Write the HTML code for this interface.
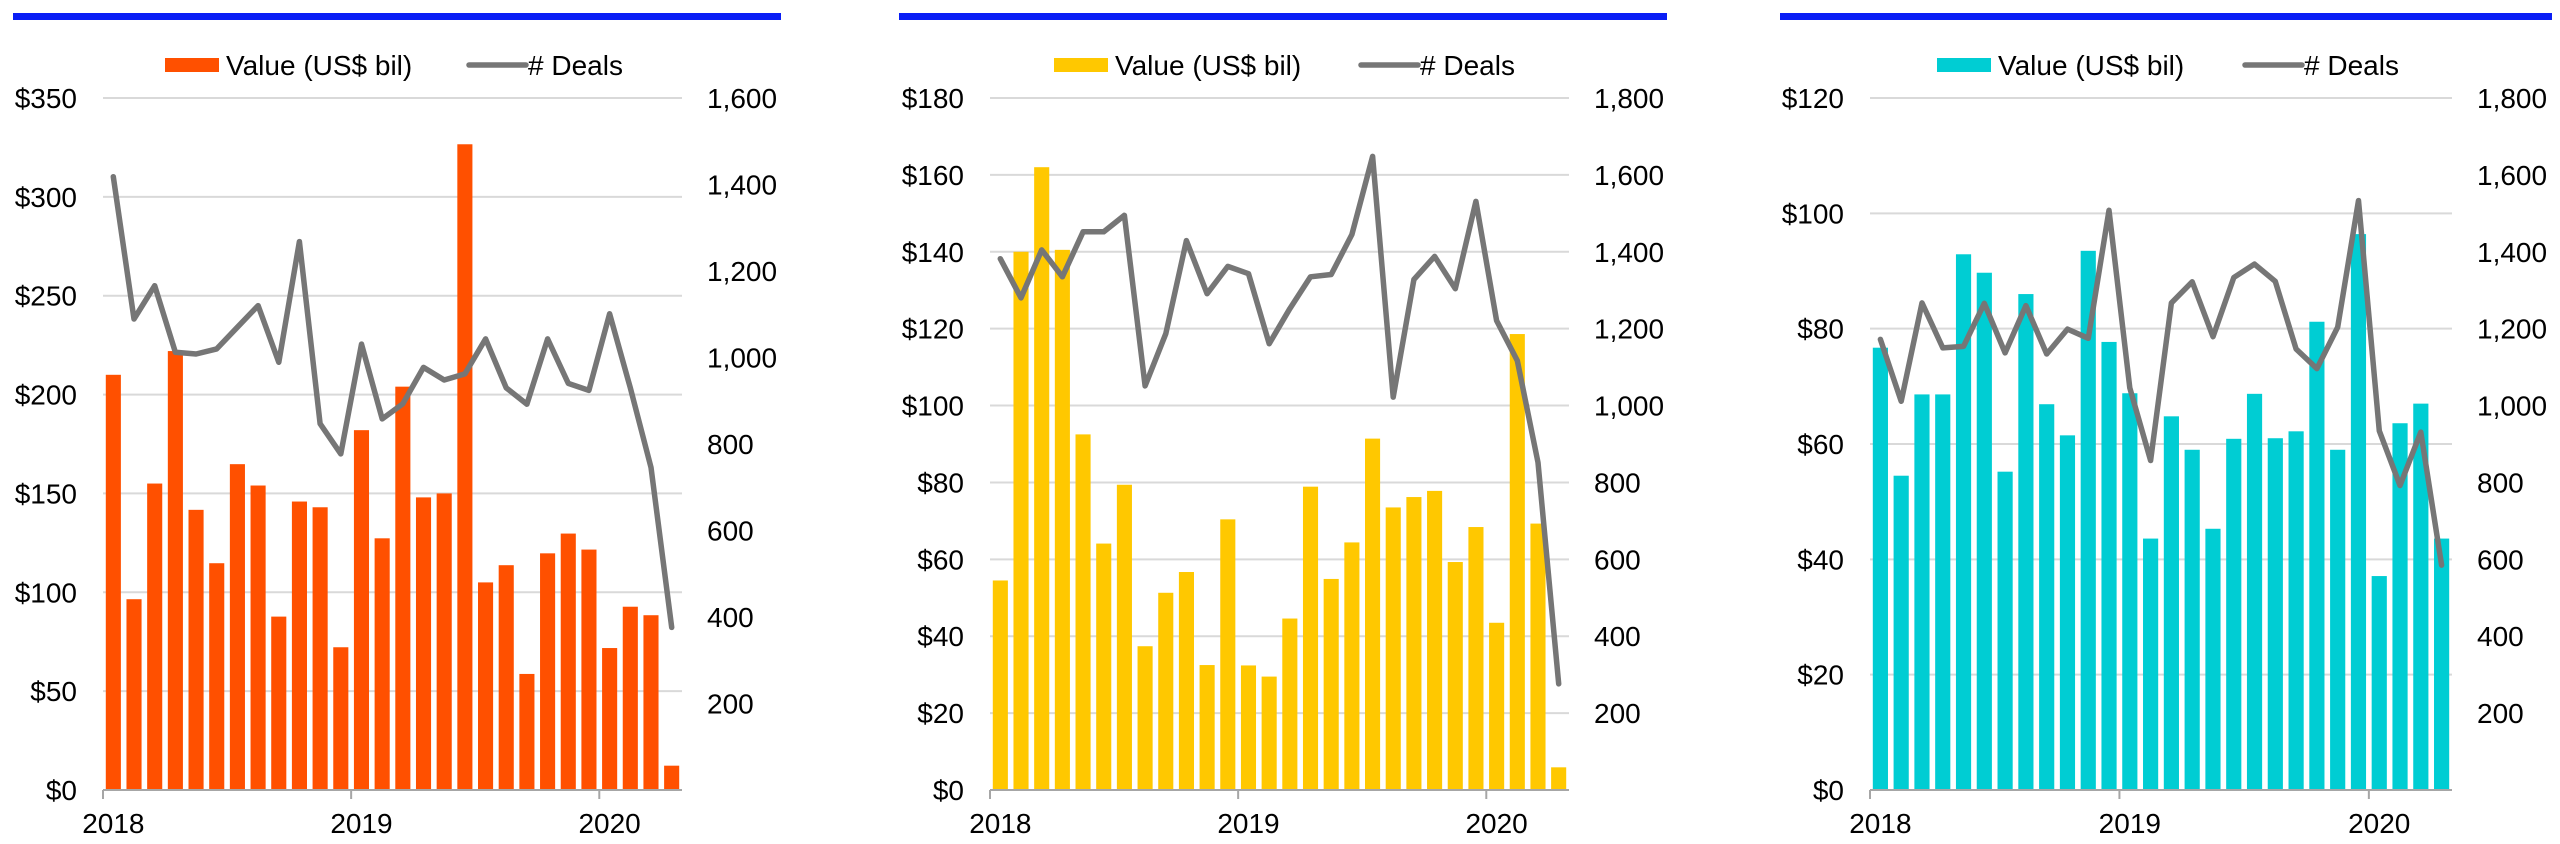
<!DOCTYPE html>
<html><head><meta charset="utf-8">
<style>
html,body{margin:0;padding:0;background:#fff;}
svg{display:block;font-family:"Liberation Sans",Arial,sans-serif;}
</style></head>
<body>
<svg id="chart" width="2560" height="844" viewBox="0 0 2560 844" xmlns="http://www.w3.org/2000/svg"></svg>
<script>
// ---- data ----
const months = 28; // Jan 2018 .. Apr 2020
const yearLabels = ["2018","2019","2020"];
const value1 = [210,96.5,155,222,141.7,114.7,164.8,154,87.7,145.9,143,72.2,182,127.3,204,148,150,326.6,105,113.7,58.7,119.7,129.7,121.6,71.8,92.7,88.4,12.3];
const deals1 = [1418,1089,1166,1012,1008,1020,1070,1120,989,1268,847,777,1031,858,893,977,948,962,1043,930,892,1043,940,924,1101,930,746,376];
const value2 = [54.5,140,162,140.5,92.5,64.1,79.4,37.4,51.3,56.7,32.5,70.4,32.4,29.5,44.6,78.9,54.9,64.4,91.4,73.5,76.2,77.8,59.3,68.4,43.5,118.6,69.3,5.9];
const deals2 = [1382,1280,1405,1335,1452,1452,1495,1051,1187,1429,1291,1362,1343,1161,1252,1335,1341,1445,1648,1022,1328,1388,1304,1531,1221,1117,852,276];
const value3 = [76.7,54.5,68.6,68.6,92.9,89.7,55.2,86.0,66.9,61.5,93.5,77.7,68.8,43.6,64.8,59.0,45.3,60.9,68.7,61.0,62.2,81.2,59.0,96.4,37.1,63.6,67.0,43.6];
const deals3 = [1172,1011,1267,1150,1154,1266,1137,1260,1134,1199,1175,1508,1046,857,1267,1322,1179,1333,1368,1323,1147,1096,1204,1533,934,792,931,585];
const leftTicks1 = ["$0","$50","$100","$150","$200","$250","$300","$350"];
const rightTicks1 = ["","200","400","600","800","1,000","1,200","1,400","1,600"];
const leftTicks2 = ["$0","$20","$40","$60","$80","$100","$120","$140","$160","$180"];
const rightTicks2 = ["","200","400","600","800","1,000","1,200","1,400","1,600","1,800"];
const leftTicks3 = ["$0","$20","$40","$60","$80","$100","$120"];
const rightTicks3 = ["","200","400","600","800","1,000","1,200","1,400","1,600","1,800"];
const leftMax = [350,180,120];
const rightMax = [1600,1800,1800];

const NS="http://www.w3.org/2000/svg";
const svg=document.getElementById('chart');
function mk(tag,attrs,parent){const e=document.createElementNS(NS,tag);for(const k in attrs)e.setAttribute(k,attrs[k]);(parent||svg).appendChild(e);return e;}

const FS=28;
const panels=[
 {x0:103,x1:682,bl:[13,781],color:"#FF5000",values:value1,deals:deals1,lt:leftTicks1,rt:rightTicks1,lm:leftMax[0],rm:rightMax[0],sw:165,ln:469,name:"ma-chart-1"},
 {x0:990,x1:1569,bl:[899,1667],color:"#FFC800",values:value2,deals:deals2,lt:leftTicks2,rt:rightTicks2,lm:leftMax[1],rm:rightMax[1],sw:1054,ln:1361,name:"ma-chart-2"},
 {x0:1870,x1:2452,bl:[1780,2552],color:"#00CDD3",values:value3,deals:deals3,lt:leftTicks3,rt:rightTicks3,lm:leftMax[2],rm:rightMax[2],sw:1937,ln:2245,name:"ma-chart-3"}
];
const yTop=98, yBot=790;

panels.forEach((p,pi)=>{
  const g=mk('g',{});
  
  
  const bar=mk('rect',{x:p.bl[0],y:13,width:p.bl[1]-p.bl[0],height:7,fill:"#0A1EF5"},g);
  
  
  const pitch=(p.x1-p.x0)/months;
  const xC=i=>p.x0+(i+0.5)*pitch;
  const yL=v=>yBot-(v/p.lm)*(yBot-yTop);
  const yR=v=>yBot-(v/p.rm)*(yBot-yTop);
  p.lt.forEach((t,i)=>{
    const v=i*p.lm/(p.lt.length-1);
    const y=yL(v);
    if(i>0){const gl=mk('line',{x1:p.x0,x2:p.x1,y1:y,y2:y,stroke:"#D9D9D9","stroke-width":2},g);
      
      }
    const tx=mk('text',{x:p.x0-26,y:y+10,"text-anchor":"end","font-size":FS,fill:"#000"},g);
    tx.textContent=t;
    
    
  });
  p.rt.forEach((t,i)=>{
    if(!t)return;
    const v=i*p.rm/(p.rt.length-1);
    const tx=mk('text',{x:p.x1+25,y:yR(v)+10,"font-size":FS,fill:"#000"},g);
    tx.textContent=t;
    
    
  });
  const bw=pitch*0.73;
  p.values.forEach((v,i)=>{
    const r=mk('rect',{x:xC(i)-bw/2,y:yL(v),width:bw,height:yBot-yL(v),fill:p.color},g);
    
    
  });
  const ax=mk('line',{x1:p.x0,x2:p.x1,y1:yBot,y2:yBot,stroke:"#A6A6A6","stroke-width":2},g);
  
  
  yearLabels.forEach((yl,k)=>{
    const tx0=p.x0+k*12*pitch;
    const tk=mk('line',{x1:tx0,x2:tx0,y1:yBot,y2:yBot+9,stroke:"#A6A6A6","stroke-width":2},g);
    
    
    const t=mk('text',{x:tx0+pitch/2,y:833,"text-anchor":"middle","font-size":FS,fill:"#000"},g);
    t.textContent=yl;
    
    
  });
  const pts=p.deals.map((d,i)=>xC(i).toFixed(1)+","+yR(d).toFixed(1)).join(" ");
  const pl=mk('polyline',{points:pts,fill:"none",stroke:"#767676","stroke-width":5.5,"stroke-linejoin":"round","stroke-linecap":"round"},g);
  
  
  const ls=mk('rect',{x:p.sw,y:58,width:54,height:14,fill:p.color},g);
  
  
  const lt=mk('text',{x:p.sw+61,y:75,"font-size":FS,fill:"#000"},g);
  lt.textContent="Value (US$ bil)";
  
  
  const ll=mk('line',{x1:p.ln,x2:p.ln+57,y1:65,y2:65,stroke:"#767676","stroke-width":5.5,"stroke-linecap":"round"},g);
  
  
  const lt2=mk('text',{x:p.ln+59,y:75,"font-size":FS,fill:"#000"},g);
  lt2.textContent="# Deals";
  
  
});
</script>
</body></html>
